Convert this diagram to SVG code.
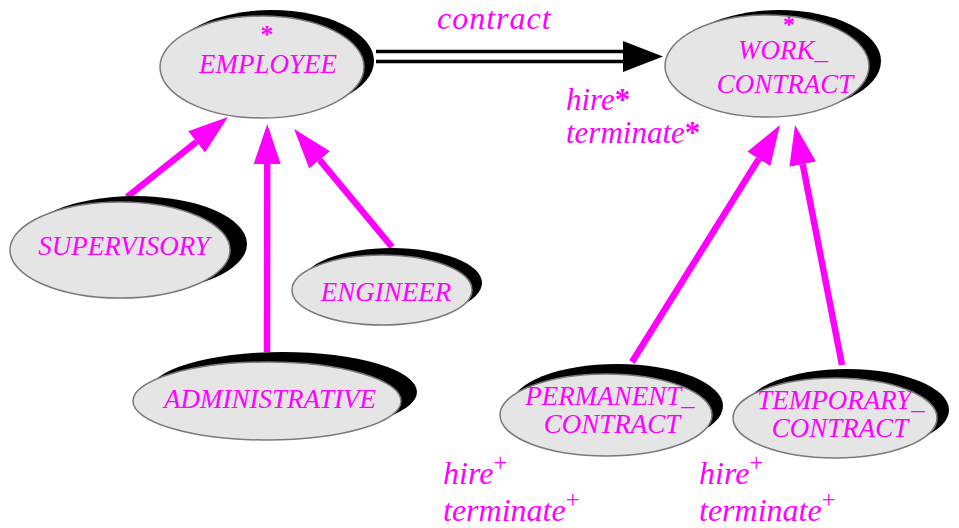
<svg xmlns="http://www.w3.org/2000/svg" width="959" height="528" viewBox="0 0 959 528">
<style>
.sh{fill:#000}
.el{fill:#e5e5e5;stroke:#7a7a7a;stroke-width:1.5}
.nt{font-family:"Liberation Serif","Times New Roman",serif;font-style:italic;font-size:27px;fill:#ff00ff;text-anchor:middle}
.ast{font-family:"Liberation Serif","Times New Roman",serif;font-style:normal;font-weight:bold;font-size:26px;fill:#ff00ff;text-anchor:middle}
.lb{font-family:"Liberation Serif","Times New Roman",serif;font-style:italic;font-size:32px;fill:#ff00ff}
.sup{font-style:normal;font-size:25px}
.st{font-style:normal;font-weight:bold}
.inh{stroke:#ff00ff;stroke-width:6.5;fill:none;marker-end:url(#ah)}
.dbl{stroke:#000;stroke-width:3.5}
</style>
<defs>
<marker id="ah" markerUnits="userSpaceOnUse" viewBox="0 -14 40 28" markerWidth="40" markerHeight="28" refX="0" refY="0" orient="auto">
<path d="M0,-13.5 L40,0 L0,13.5 z" fill="#ff00ff"/>
</marker>
</defs>
<g id="connectors">
<line class="inh" x1="127" y1="197" x2="196.6" y2="141.8"/>
<line class="inh" x1="267" y1="352" x2="267.2" y2="164"/>
<line class="inh" x1="392" y1="247" x2="319.6" y2="159.8"/>
<line class="inh" x1="632" y1="362" x2="758.8" y2="158.9"/>
<line class="inh" x1="842" y1="365" x2="802.7" y2="164.2"/>
<g id="contract-link">
<line class="dbl" x1="376" y1="51.5" x2="626" y2="51.5"/>
<line class="dbl" x1="376" y1="61.5" x2="626" y2="61.5"/>
<polygon points="623,41 663,56.5 623,72" fill="#000"/>
</g>
</g>
<g id="employee">
<ellipse class="sh" cx="272" cy="61" rx="102" ry="51"/>
<ellipse class="el" cx="262" cy="67" rx="102" ry="51"/>
<text class="ast" x="267" y="43">*</text>
<text class="nt" x="268" y="73">EMPLOYEE</text>
</g>
<g id="work_contract">
<ellipse class="sh" cx="779" cy="61" rx="102" ry="51"/>
<ellipse class="el" cx="767" cy="66" rx="102" ry="51"/>
<text class="ast" x="789" y="32" style="font-size:24px">*</text>
<text class="nt" x="783" y="59">WORK_</text>
<text class="nt" x="785" y="93">CONTRACT</text>
</g>
<g id="supervisory">
<ellipse class="sh" cx="135" cy="244" rx="112" ry="48"/>
<ellipse class="el" cx="120" cy="250" rx="110" ry="48"/>
<text class="nt" x="124" y="255">SUPERVISORY</text>
</g>
<g id="engineer">
<ellipse class="sh" cx="392" cy="283" rx="90" ry="35"/>
<ellipse class="el" cx="382" cy="290" rx="90" ry="35"/>
<text class="nt" x="386" y="301">ENGINEER</text>
</g>
<g id="administrative">
<ellipse class="sh" cx="283" cy="392" rx="134" ry="40"/>
<ellipse class="el" cx="267" cy="401" rx="134" ry="39"/>
<text class="nt" x="270" y="408">ADMINISTRATIVE</text>
</g>
<g id="permanent_contract">
<ellipse class="sh" cx="617" cy="406" rx="106" ry="42"/>
<ellipse class="el" cx="606" cy="415" rx="106" ry="41"/>
<text class="nt" x="610" y="405">PERMANENT_</text>
<text class="nt" x="612" y="433">CONTRACT</text>
</g>
<g id="temporary_contract">
<ellipse class="sh" cx="847" cy="410" rx="102" ry="41"/>
<ellipse class="el" cx="835" cy="418" rx="102" ry="40"/>
<text class="nt" x="841" y="409">TEMPORARY_</text>
<text class="nt" x="840" y="437">CONTRACT</text>
</g>
<g id="labels">
<text class="lb" x="437" y="29" letter-spacing="1">contract</text>
<text class="lb" x="566" y="110" style="font-size:31px">hire<tspan class="st">*</tspan></text>
<text class="lb" x="566" y="143" style="font-size:31px">terminate<tspan class="st">*</tspan></text>
<text class="lb" x="443" y="484">hire<tspan class="sup" dy="-13">+</tspan></text>
<text class="lb" x="443" y="521">terminate<tspan class="sup" dy="-13">+</tspan></text>
<text class="lb" x="699" y="484">hire<tspan class="sup" dy="-13">+</tspan></text>
<text class="lb" x="699" y="521">terminate<tspan class="sup" dy="-13">+</tspan></text>
</g>
</svg>
